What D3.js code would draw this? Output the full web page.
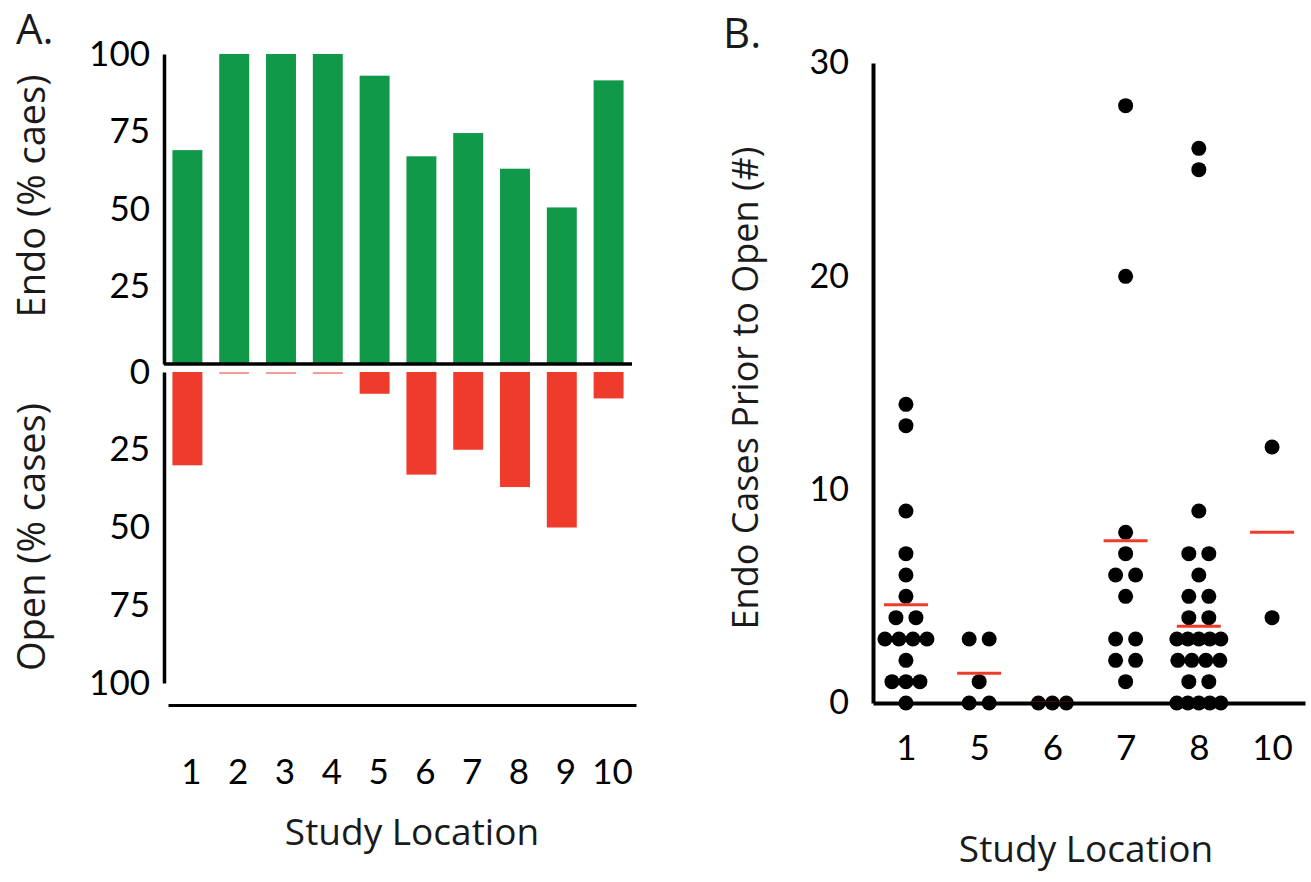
<!DOCTYPE html>
<html>
<head>
<meta charset="utf-8">
<script src="https://cdn.jsdelivr.net/npm/d3@7"></script>
<style>
  body { margin: 0; background: #fff; }
  svg { display: block; }
  .num { font-family: Lato, "Open Sans", sans-serif; fill: #000; }
  .lab { font-family: "Open Sans", sans-serif; fill: #1a1a1a; }
</style>
</head>
<body>
<svg id="fig" width="1311" height="882"></svg>
<script>
// panel A: share of cases per study location
var locations = ['1', '2', '3', '4', '5', '6', '7', '8', '9', '10'];
var endoPct = [69, 100, 100, 100, 93, 67, 74.5, 63, 50.5, 91.5];
var openPct = [30, 0, 0, 0, 7, 33, 25, 37, 50, 8.5];
var pctTicks = [0, 25, 50, 75, 100];

// panel B: endo cases before the first open case, per surgeon
var locationsB = ['1', '5', '6', '7', '8', '10'];
var casesB = [
  [14, 13, 9, 7, 6, 5, 4, 4, 3, 3, 3, 3, 2, 1, 1, 1, 0],
  [3, 3, 1, 0, 0],
  [0, 0, 0],
  [28, 20, 8, 7, 6, 6, 5, 3, 3, 2, 2, 1],
  [26, 25, 9, 7, 7, 6, 5, 5, 4, 4, 3, 3, 3, 3, 3, 2, 2, 2, 2, 1, 1, 0, 0, 0, 0, 0],
  [12, 4]
];
var meansB = [4.6, 1.4, 0, 7.6, 3.6, 8];
var countTicks = [0, 10, 20, 30];

var green = '#11994a', red = '#ee3b2b';
var svg = d3.select('#fig');

// ---------- panel A ----------
var xA = d3.scaleBand().domain(locations).range([164, 632])
  .paddingInner(0.36).paddingOuter(0.18);
var yTop = d3.scaleLinear().domain([0, 100]).range([364, 54]);
var yBot = d3.scaleLinear().domain([0, 100]).range([372, 683]);

var gA = svg.append('g');

gA.selectAll('rect.endo')
  .data(endoPct)
  .enter().append('rect')
  .attr('class', 'endo')
  .attr('x', function (d, i) { return xA(locations[i]); })
  .attr('y', function (d) { return yTop(d); })
  .attr('width', xA.bandwidth())
  .attr('height', function (d) { return yTop(0) - yTop(d); })
  .attr('fill', green);

gA.selectAll('rect.open')
  .data(openPct)
  .enter().append('rect')
  .attr('class', 'open')
  .attr('x', function (d, i) { return xA(locations[i]); })
  .attr('y', yBot(0))
  .attr('width', xA.bandwidth())
  .attr('height', function (d) { return Math.max(yBot(d) - yBot(0), 2); })
  .attr('fill', red)
  .attr('fill-opacity', function (d) { return d === 0 ? 0.5 : 1; });

var axTop = gA.append('g')
  .attr('transform', 'translate(164,0)')
  .call(d3.axisLeft(yTop).tickValues(pctTicks.slice(1)).tickSize(0).tickPadding(14));
var axBot = gA.append('g')
  .attr('transform', 'translate(164,0)')
  .call(d3.axisLeft(yBot).tickValues(pctTicks).tickSize(0).tickPadding(14));
[axTop, axBot].forEach(function (ax) {
  ax.select('.domain').attr('stroke', '#000').attr('stroke-width', 3.5);
  ax.selectAll('text').attr('class', 'num').attr('font-size', 35);
});

// zero line of the top half
gA.append('line')
  .attr('x1', 164).attr('x2', 632)
  .attr('y1', yTop(0)).attr('y2', yTop(0))
  .attr('stroke', '#000').attr('stroke-width', 3.5);

var axXA = gA.append('g')
  .attr('transform', 'translate(4,705)')
  .call(d3.axisBottom(xA).tickSize(0).tickPadding(54));
axXA.select('.domain').attr('stroke', '#000').attr('stroke-width', 3);
axXA.selectAll('text').attr('class', 'num').attr('font-size', 35);

gA.append('text').attr('class', 'lab')
  .attr('transform', 'translate(45,196) rotate(-90)')
  .attr('text-anchor', 'middle').attr('font-size', 38)
  .text('Endo (% caes)');
gA.append('text').attr('class', 'lab')
  .attr('transform', 'translate(45,537) rotate(-90)')
  .attr('text-anchor', 'middle').attr('font-size', 38)
  .text('Open (% cases)');
gA.append('text').attr('class', 'lab')
  .attr('x', 412).attr('y', 845)
  .attr('text-anchor', 'middle').attr('font-size', 37)
  .text('Study Location');
gA.append('text').attr('class', 'lab')
  .attr('x', 16).attr('y', 44).attr('font-size', 42)
  .text('A.');

// ---------- panel B ----------
var xB = d3.scalePoint().domain(locationsB).range([873, 1305]).padding(0.45);
var yB = d3.scaleLinear().domain([0, 30]).range([703, 63]);
var gB = svg.append('g');

// spread dots that share a value sideways around the group centre
var dots = [];
casesB.forEach(function (vals, gi) {
  var counts = d3.rollup(vals, function (v) { return v.length; }, function (v) { return v; });
  var seen = new Map();
  vals.forEach(function (v) {
    var n = counts.get(v), k = seen.get(v) || 0;
    seen.set(v, k + 1);
    var step = n <= 2 ? 20 : Math.min(14, 44 / (n - 1));
    dots.push({ loc: locationsB[gi], v: v, dx: (k - (n - 1) / 2) * step });
  });
});

gB.selectAll('circle')
  .data(dots)
  .enter().append('circle')
  .attr('cx', function (d) { return xB(d.loc) + d.dx; })
  .attr('cy', function (d) { return yB(d.v); })
  .attr('r', 7.5)
  .attr('fill', '#000');

gB.selectAll('line.mean')
  .data(meansB)
  .enter().append('line')
  .attr('class', 'mean')
  .attr('x1', function (d, i) { return xB(locationsB[i]) - 22; })
  .attr('x2', function (d, i) { return xB(locationsB[i]) + 22; })
  .attr('y1', function (d) { return yB(d); })
  .attr('y2', function (d) { return yB(d); })
  .attr('stroke', red).attr('stroke-width', 3);

var axYB = gB.append('g')
  .attr('transform', 'translate(873,0)')
  .call(d3.axisLeft(yB).tickValues(countTicks).tickSize(0).tickPadding(24));
axYB.select('.domain').attr('stroke', '#000').attr('stroke-width', 4);
axYB.selectAll('text').attr('class', 'num').attr('font-size', 34);

var axXB = gB.append('g')
  .attr('transform', 'translate(0,703)')
  .call(d3.axisBottom(xB).tickSize(0).tickPadding(32));
axXB.select('.domain').attr('stroke', '#000').attr('stroke-width', 4);
axXB.selectAll('text').attr('class', 'num').attr('font-size', 35);

gB.append('text').attr('class', 'lab')
  .attr('transform', 'translate(758,388) rotate(-90)')
  .attr('text-anchor', 'middle').attr('font-size', 36)
  .text('Endo Cases Prior to Open (#)');
gB.append('text').attr('class', 'lab')
  .attr('x', 1086).attr('y', 862)
  .attr('text-anchor', 'middle').attr('font-size', 37)
  .text('Study Location');
gB.append('text').attr('class', 'lab')
  .attr('x', 723).attr('y', 48).attr('font-size', 42)
  .text('B.');
</script>
</body>
</html>
